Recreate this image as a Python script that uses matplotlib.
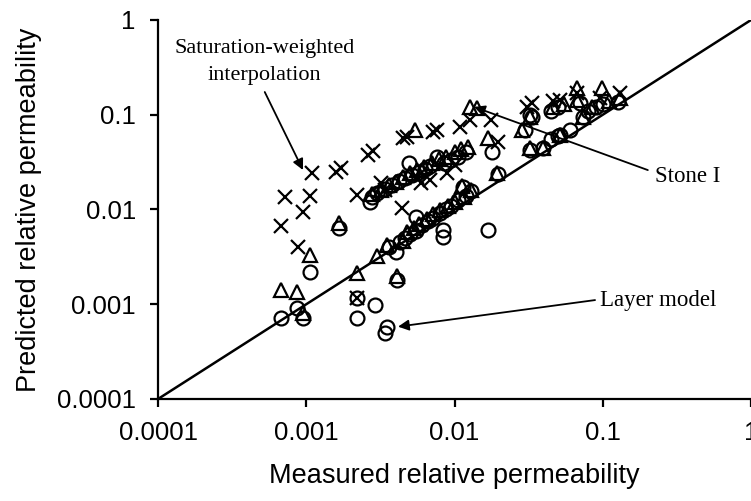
import matplotlib
matplotlib.use("Agg")
import matplotlib.pyplot as plt

# Layer model (circles)
layer_x = [0.00068, 0.00087, 0.00095, 0.00106, 0.0022, 0.0029, 0.0022, 0.0035, 0.0034, 0.0041,
           0.00166, 0.0027, 0.00277,
           0.0030, 0.0034, 0.0038, 0.0042, 0.0046, 0.0049, 0.0052, 0.0058, 0.0063, 0.0068,
           0.0076, 0.0085, 0.0095, 0.0105, 0.0120, 0.0179, 0.0196,
           0.0036, 0.0040, 0.0043, 0.0046, 0.0050, 0.0055, 0.0055, 0.0060, 0.0066, 0.0072,
           0.0080, 0.0088, 0.0084, 0.0084, 0.0095, 0.0105, 0.0114, 0.0120, 0.0130, 0.0168,
           0.0300, 0.0333, 0.0323, 0.0323, 0.0395, 0.045, 0.050, 0.0515, 0.060, 0.070,
           0.0736, 0.080, 0.090, 0.100, 0.127, 0.045, 0.050]
layer_y = [0.00072, 0.00091, 0.00072, 0.0022, 0.00116, 0.00098, 0.00072, 0.00058, 0.0005, 0.0018,
           0.0064, 0.012, 0.0136,
           0.0150, 0.0165, 0.0180, 0.0200, 0.0215, 0.031, 0.0230, 0.0250, 0.0270, 0.0290,
           0.0358, 0.0310, 0.0330, 0.0360, 0.0400, 0.0405, 0.0235,
           0.0040, 0.0036, 0.0045, 0.0050, 0.0055, 0.0083, 0.0060, 0.0068, 0.0075, 0.0082,
           0.0092, 0.0100, 0.0061, 0.0051, 0.0110, 0.0125, 0.0173, 0.0140, 0.0155, 0.0061,
           0.069, 0.095, 0.0425, 0.099, 0.0446, 0.055, 0.060, 0.061, 0.069, 0.133,
           0.095, 0.11, 0.12, 0.13, 0.137, 0.11, 0.12]

# Stone I (triangles)
stone_x = [0.00068, 0.00087, 0.00095, 0.00106, 0.00166, 0.0022, 0.0030, 0.0041, 0.00277,
           0.0054, 0.0127, 0.0142, 0.0168, 0.0123, 0.0194, 0.0112,
           0.0032, 0.0036, 0.0040, 0.0045, 0.0050, 0.0056, 0.0062, 0.0070, 0.0078, 0.0088,
           0.0100, 0.0110,
           0.0035, 0.0045, 0.0048, 0.0053, 0.0058, 0.0065, 0.0072, 0.0080, 0.0090, 0.0100,
           0.0115, 0.0130,
           0.0323, 0.0323, 0.067, 0.099, 0.067, 0.0736, 0.0515, 0.0395, 0.0285, 0.046,
           0.055, 0.085, 0.11, 0.13]
stone_y = [0.00141, 0.00135, 0.00080, 0.0033, 0.0072, 0.00214, 0.0032, 0.0020, 0.0145,
           0.069, 0.121, 0.118, 0.057, 0.046, 0.0243, 0.0175,
           0.016, 0.018, 0.0195, 0.022, 0.024, 0.026, 0.028, 0.031, 0.034, 0.036,
           0.040, 0.043,
           0.0042, 0.0046, 0.0058, 0.0064, 0.0070, 0.0080, 0.0090, 0.0098, 0.0110, 0.0120,
           0.0135, 0.0160,
           0.0446, 0.095, 0.19, 0.19, 0.143, 0.095, 0.061, 0.0446, 0.069, 0.12,
           0.13, 0.12, 0.14, 0.15]

# Saturation-weighted interpolation (crosses)
swi_x = [0.00068, 0.00088, 0.00095, 0.00072, 0.00106, 0.00109, 0.00159, 0.00171, 0.0022,
         0.00261, 0.00282, 0.0022, 0.0034, 0.0045, 0.0048, 0.0044, 0.0059, 0.0068, 0.0072,
         0.0076, 0.0089, 0.0101, 0.0109, 0.0127, 0.0177, 0.0196, 0.0308, 0.0333, 0.046,
         0.0515, 0.067, 0.0958, 0.131, 0.0032, 0.0056]
swi_y = [0.0067, 0.0040, 0.0094, 0.0136, 0.0139, 0.0243, 0.025, 0.0275, 0.0142,
         0.0376, 0.0414, 0.00116, 0.0161, 0.057, 0.058, 0.0104, 0.0191, 0.0205, 0.066,
         0.069, 0.0243, 0.0295, 0.074, 0.088, 0.088, 0.052, 0.121, 0.133, 0.14,
         0.143, 0.17, 0.15, 0.17, 0.019, 0.022]

tick_vals = [0.0001, 0.001, 0.01, 0.1, 1]
tick_labels = ["0.0001", "0.001", "0.01", "0.1", "1"]

plt.rcParams["font.family"] = ["Liberation Sans", "DejaVu Sans"]

fig = plt.figure(figsize=(7.51, 5.01), dpi=100)
ax = fig.add_axes([0.2104, 0.2036, 0.7896, 0.7565])

ax.plot([0.0001, 1], [0.0001, 1], color="black", lw=1.8, zorder=1)

ax.plot(layer_x, layer_y, "o", ms=10, mfc="none", mec="black", mew=1.6, zorder=3)
ax.plot(stone_x, stone_y, "^", ms=10.5, mfc="none", mec="black", mew=1.6, zorder=3)
ax.plot(swi_x, swi_y, "x", ms=10.5, mec="black", mew=1.6, zorder=3)

ax.set_xscale("log")
ax.set_yscale("log")
ax.set_xlim(0.0001, 1)
ax.set_ylim(0.0001, 1)
ax.set_xticks(tick_vals)
ax.set_xticklabels(tick_labels)
ax.set_yticks(tick_vals)
ax.set_yticklabels(tick_labels)
ax.minorticks_off()
ax.tick_params(direction="out", length=6, width=1.6, labelsize=18.5, pad=10)

for side in ["top", "right"]:
    ax.spines[side].set_visible(False)
for side in ["left", "bottom"]:
    ax.spines[side].set_linewidth(1.6)

ax.set_xlabel("Measured relative permeability", fontsize=19.5)
ax.set_ylabel("Predicted relative permeability", fontsize=19.5)
ax.xaxis.set_label_coords(0.5, -0.168)
ax.yaxis.set_label_coords(-0.196, 0.5)

serif = ["Liberation Serif", "DejaVu Serif"]
arrow = dict(arrowstyle="-|>", color="black", lw=1.3, mutation_scale=16,
             shrinkA=0, shrinkB=0)

ax.text(0.18, 0.889, "Saturation-weighted\ninterpolation", transform=ax.transAxes,
        ha="center", va="center", family=serif, fontsize=16, linespacing=1.55)
ax.annotate("", xy=(0.00095, 0.0261), xytext=(0.18, 0.81),
            textcoords="axes fraction", arrowprops=arrow)

ax.text(0.838, 0.588, "Stone I", transform=ax.transAxes, ha="left", va="center",
        family=serif, fontsize=16.5)
ax.annotate("", xy=(0.01355, 0.121), xytext=(0.826, 0.604),
            textcoords="axes fraction", arrowprops=arrow)

ax.text(0.745, 0.261, "Layer model", transform=ax.transAxes, ha="left", va="center",
        family=serif, fontsize=16.5)
ax.annotate("", xy=(0.00416, 0.00058), xytext=(0.737, 0.261),
            textcoords="axes fraction", arrowprops=arrow)

fig.savefig("out.png", dpi=100)
